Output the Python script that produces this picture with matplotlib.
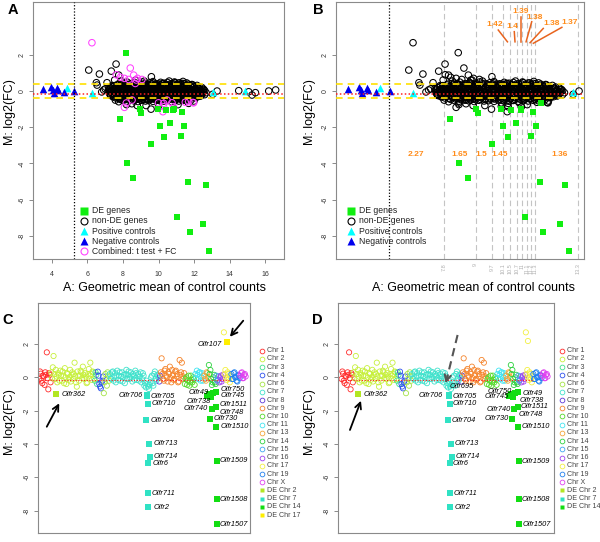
import matplotlib
matplotlib.use("Agg")
import matplotlib.pyplot as plt
from matplotlib.lines import Line2D
import numpy as np

plt.rcParams["font.family"] = ["Liberation Sans", "DejaVu Sans"]
plt.rcParams["axes.unicode_minus"] = False

# ======================= DATA : panels A and B =======================
de_x = [7.81, 8.94, 9.00, 9.97, 10.42, 10.84, 10.85, 11.34, 10.07, 10.63, 11.46,
        10.29, 11.25, 9.60, 8.21, 8.58, 11.64, 12.69, 11.02, 12.51, 11.76, 12.86]
de_y = [-1.57, -1.01, -1.23, -1.01, -1.05, -1.05, -0.98, -1.14, -1.93, -1.77, -1.92,
        -2.54, -2.49, -2.93, -4.00, -4.81, -5.05, -5.17, -6.98, -7.35, -7.81, -8.86]
de_onlyA_x = [8.17]
de_onlyA_y = [2.12]
de_onlyB_x = [11.70]
de_onlyB_y = [-0.68]

pos_x = [4.85, 6.25, 13.05, 14.89]
pos_y = [0.15, -0.10, -0.05, 0.02]
neg_x = [3.49, 3.94, 4.04, 4.09, 4.28, 4.34, 4.69, 5.26]
neg_y = [0.09, 0.20, 0.06, -0.13, 0.15, 0.06, -0.07, 0.02]

comb_x = [6.25, 8.41, 7.62, 7.85, 8.08, 8.60, 8.75, 9.07, 8.32, 8.08, 8.19, 10.29, 10.25,
          10.85, 10.29, 11.51, 11.70, 11.94, 8.69, 8.51, 10.48, 10.00, 10.76, 11.98, 8.82]
comb_y = [2.67, 1.27, 0.90, 0.76, 0.70, 0.88, 0.61, 0.64, 0.64, -0.90, -0.66, -0.87, -1.14,
          -0.87, -0.68, -0.62, -0.59, -0.63, 0.42, -0.50, -0.50, -0.65, -0.65, -0.65, 0.70]

scat_x = [6.07, 6.67, 7.34, 7.61, 6.50, 6.54, 6.91, 7.10, 7.19, 7.29, 7.53, 7.57, 7.76, 7.76,
          9.60, 9.69, 10.25, 11.38, 12.26, 12.68, 13.05, 13.30, 14.52, 15.08, 15.27, 15.46,
          16.21, 16.60, 9.58, 6.80, 7.00, 7.40, 7.45, 7.92, 8.20, 8.70, 9.20, 10.60, 10.90,
          11.20, 11.90, 12.10, 12.40, 12.00, 9.30, 8.80, 10.00, 11.10, 8.50, 12.50, 12.60]
scat_y = [1.16, 0.94, 1.10, 1.49, 0.46, 0.33, 0.06, 0.46, 0.15, -0.22, 0.61, -0.50, -0.59, 0.88,
          0.79, 0.52, 0.42, 0.53, 0.15, -0.09, -0.18, 0.00, 0.02, -0.04, -0.22, -0.09,
          0.00, 0.06, -1.00, -0.05, 0.12, 0.30, -0.30, 0.55, -0.75, 0.60, 0.55, 0.55, 0.50,
          0.45, 0.35, -0.35, -0.25, -0.55, -0.80, -0.80, -0.85, -0.75, -0.70, 0.10, -0.20]

core_x = [8.02, 8.24, 8.47, 8.66, 8.90, 9.08, 9.31, 9.52, 9.70, 9.93, 10.12, 10.33, 10.51, 10.74, 10.92, 11.13, 11.36, 11.58,
          7.52, 7.70, 7.86, 8.05, 8.20, 8.38, 8.56, 8.71, 8.90, 9.06, 9.24, 9.41, 9.57, 9.76, 9.92, 10.10, 10.26, 10.43, 10.61, 10.77, 10.95, 11.12, 11.28, 11.47, 11.63, 11.80, 11.98, 12.17,
          7.30, 7.47, 7.63, 7.80, 7.97, 8.15, 8.31, 8.48, 8.66, 8.82, 9.00, 9.16, 9.33, 9.50, 9.67, 9.85, 10.02, 10.18, 10.36, 10.52, 10.70, 10.87, 11.03, 11.20, 11.38, 11.55, 11.72, 11.90, 12.06, 12.24, 12.45,
          7.20, 7.37, 7.55, 7.71, 7.88, 8.06, 8.23, 8.40, 8.57, 8.75, 8.92, 9.09, 9.26, 9.44, 9.61, 9.78, 9.96, 10.13, 10.30, 10.47, 10.65, 10.82, 10.99, 11.16, 11.34, 11.51, 11.68, 11.86, 12.03, 12.20, 12.38, 12.60,
          7.24, 7.41, 7.58, 7.76, 7.93, 8.10, 8.27, 8.45, 8.62, 8.79, 8.97, 9.13, 9.31, 9.48, 9.65, 9.83, 10.00, 10.17, 10.35, 10.52, 10.69, 10.86, 11.04, 11.21, 11.39, 11.56, 11.73, 11.91, 12.08, 12.26, 12.48,
          7.32, 7.49, 7.67, 7.84, 8.01, 8.18, 8.36, 8.53, 8.70, 8.88, 9.05, 9.22, 9.40, 9.57, 9.74, 9.91, 10.09, 10.26, 10.43, 10.61, 10.78, 10.95, 11.12, 11.30, 11.47, 11.64, 11.82, 11.99, 12.17, 12.36,
          7.60, 7.78, 7.95, 8.12, 8.30, 8.47, 8.64, 8.82, 8.99, 9.16, 9.34, 9.51, 9.68, 9.86, 10.03, 10.20, 10.38, 10.55, 10.72, 10.90, 11.07, 11.24, 11.42, 11.59, 11.77, 11.96,
          8.00, 8.21, 8.43, 8.62, 8.85, 9.04, 9.27, 9.46, 9.69, 9.88, 10.09, 10.31, 10.50, 10.72, 10.93, 11.14, 11.35, 11.58]
core_y = [0.44, 0.49, 0.41, 0.47, 0.43, 0.50, 0.42, 0.46, 0.44, 0.40, 0.48, 0.43, 0.47, 0.41, 0.46, 0.44, 0.42, 0.45,
          0.30, 0.33, 0.28, 0.32, 0.35, 0.29, 0.31, 0.27, 0.34, 0.30, 0.32, 0.28, 0.33, 0.29, 0.31, 0.35, 0.28, 0.32, 0.30, 0.34, 0.27, 0.31, 0.33, 0.29, 0.32, 0.30, 0.28, 0.31,
          0.18, 0.14, 0.20, 0.16, 0.13, 0.19, 0.17, 0.21, 0.15, 0.18, 0.13, 0.20, 0.16, 0.19, 0.14, 0.17, 0.21, 0.15, 0.18, 0.13, 0.19, 0.16, 0.20, 0.14, 0.17, 0.19, 0.15, 0.18, 0.13, 0.16, 0.19,
          0.04, 0.01, 0.06, 0.02, 0.07, 0.03, 0.00, 0.05, 0.02, 0.06, 0.01, 0.04, 0.07, 0.02, 0.05, 0.00, 0.03, 0.06, 0.01, 0.04, 0.07, 0.02, 0.05, 0.00, 0.03, 0.06, 0.02, 0.04, 0.01, 0.05, 0.03, 0.02,
          -0.10, -0.13, -0.08, -0.12, -0.09, -0.14, -0.11, -0.07, -0.12, -0.10, -0.14, -0.08, -0.11, -0.13, -0.09, -0.12, -0.07, -0.11, -0.14, -0.10, -0.08, -0.13, -0.11, -0.09, -0.12, -0.14, -0.10, -0.08, -0.12, -0.11, -0.09,
          -0.25, -0.22, -0.27, -0.24, -0.28, -0.23, -0.26, -0.21, -0.25, -0.28, -0.22, -0.26, -0.24, -0.27, -0.23, -0.25, -0.28, -0.22, -0.26, -0.24, -0.21, -0.27, -0.25, -0.23, -0.28, -0.24, -0.26, -0.22, -0.25, -0.27,
          -0.38, -0.41, -0.36, -0.40, -0.43, -0.37, -0.39, -0.42, -0.38, -0.36, -0.41, -0.39, -0.43, -0.37, -0.40, -0.38, -0.42, -0.36, -0.39, -0.41, -0.37, -0.40, -0.43, -0.38, -0.41, -0.37,
          -0.52, -0.56, -0.50, -0.54, -0.58, -0.51, -0.55, -0.53, -0.57, -0.50, -0.54, -0.56, -0.52, -0.58, -0.53, -0.55, -0.51, -0.54]
core2_x = [7.72, 7.93, 8.14, 8.34, 8.57, 8.78, 8.99, 9.19, 9.41, 9.61, 9.82, 10.03, 10.22, 10.44, 10.64, 10.85, 11.05, 11.26, 11.46, 11.67, 11.88,
           7.40, 7.60, 7.79, 7.99, 8.19, 8.40, 8.59, 8.80, 8.99, 9.20, 9.39, 9.60, 9.80, 10.00, 10.20, 10.39, 10.60, 10.80, 10.99, 11.20, 11.40, 11.60, 11.80, 12.00, 12.30,
           7.25, 7.45, 7.66, 7.86, 8.06, 8.26, 8.46, 8.66, 8.86, 9.06, 9.26, 9.46, 9.66, 9.86, 10.06, 10.26, 10.46, 10.66, 10.86, 11.06, 11.26, 11.46, 11.66, 11.86, 12.06, 12.28, 12.55,
           7.28, 7.48, 7.69, 7.89, 8.09, 8.29, 8.49, 8.69, 8.89, 9.09, 9.29, 9.49, 9.69, 9.89, 10.09, 10.29, 10.49, 10.69, 10.89, 11.09, 11.29, 11.49, 11.69, 11.89, 12.09, 12.31, 12.52,
           7.27, 7.50, 7.70, 7.90, 8.11, 8.31, 8.51, 8.71, 8.91, 9.11, 9.31, 9.51, 9.71, 9.91, 10.11, 10.31, 10.51, 10.71, 10.91, 11.11, 11.31, 11.51, 11.71, 11.91, 12.11, 12.30, 12.46,
           7.45, 7.66, 7.87, 8.07, 8.28, 8.49, 8.70, 8.90, 9.11, 9.32, 9.53, 9.73, 9.94, 10.15, 10.36, 10.56, 10.77, 10.98, 11.19, 11.39, 11.60, 11.81, 12.02, 12.22,
           7.85, 8.06, 8.27, 8.48, 8.69, 8.90, 9.11, 9.32, 9.53, 9.74, 9.95, 10.16, 10.37, 10.58, 10.79, 11.00, 11.21, 11.42, 11.63, 11.85]
core2_y = [0.38, 0.36, 0.40, 0.37, 0.39, 0.35, 0.38, 0.40, 0.36, 0.39, 0.37, 0.38, 0.40, 0.36, 0.38, 0.39, 0.35, 0.37, 0.40, 0.38, 0.36,
           0.24, 0.22, 0.25, 0.23, 0.26, 0.22, 0.24, 0.25, 0.23, 0.21, 0.24, 0.26, 0.22, 0.25, 0.23, 0.24, 0.21, 0.25, 0.23, 0.26, 0.22, 0.24, 0.25, 0.23, 0.22,
           0.10, 0.08, 0.11, 0.09, 0.12, 0.08, 0.10, 0.11, 0.09, 0.07, 0.10, 0.12, 0.08, 0.11, 0.09, 0.10, 0.07, 0.11, 0.09, 0.12, 0.08, 0.10, 0.11, 0.09, 0.08, 0.10, 0.09,
           -0.04, -0.02, -0.05, -0.03, -0.06, -0.02, -0.04, -0.05, -0.03, -0.01, -0.04, -0.06, -0.02, -0.05, -0.03, -0.04, -0.01, -0.05, -0.03, -0.06, -0.02, -0.04, -0.05, -0.03, -0.02, -0.04, -0.03,
           -0.18, -0.16, -0.19, -0.17, -0.20, -0.16, -0.18, -0.19, -0.17, -0.15, -0.18, -0.20, -0.16, -0.19, -0.17, -0.18, -0.15, -0.19, -0.17, -0.20, -0.16, -0.18, -0.19, -0.17, -0.16, -0.18, -0.17,
           -0.32, -0.30, -0.33, -0.31, -0.34, -0.30, -0.32, -0.33, -0.31, -0.29, -0.32, -0.34, -0.30, -0.33, -0.31, -0.32, -0.29, -0.33, -0.31, -0.34, -0.30, -0.32, -0.33, -0.31,
           -0.46, -0.44, -0.47, -0.45, -0.48, -0.44, -0.46, -0.47, -0.45, -0.43, -0.46, -0.48, -0.44, -0.47, -0.45, -0.46, -0.43, -0.47, -0.45, -0.48]

fc_upper, fc_lower, m_median, count_cut = 0.37, -0.40, -0.18, 5.25

bin_edges = [7.57, 8.91, 9.62, 10.06, 10.37, 10.68, 10.87, 11.08, 11.25, 11.43, 13.27]
bin_labels = ["7.8", "9", "9.7", "10.1", "10.5", "10.7", "11", "11.1", "11.2", "11.3", "13.3"]
thr_low_text = ["2.27", "1.65", "1.5", "1.45", "1.36"]
thr_low_x = [6.38, 8.22, 9.17, 9.95, 12.49]
thr_top_text = ["1.42", "1.4", "1.39", "1.38", "1.38", "1.37"]
thr_top_x = [9.73, 10.47, 10.82, 11.43, 12.14, 12.89]
thr_top_y = [3.65, 3.59, 4.38, 4.07, 3.74, 3.77]
thr_seg_x0 = [9.87, 10.55, 10.82, 11.29, 11.78, 12.57]
thr_seg_y0 = [3.37, 3.28, 4.10, 3.83, 3.46, 3.52]
thr_seg_x1 = [10.26, 10.58, 10.82, 11.05, 11.22, 11.36]
thr_seg_y1 = [2.72, 2.72, 2.72, 2.72, 2.67, 2.64]

# ======================= DATA : panels C and D =======================
chr_names = ["Chr 1", "Chr 2", "Chr 3", "Chr 4", "Chr 6", "Chr 7", "Chr 8", "Chr 9", "Chr 10",
             "Chr 11", "Chr 13", "Chr 14", "Chr 15", "Chr 16", "Chr 17", "Chr 19", "Chr X"]
chr_colors = ["#FF2A2A", "#C6F03A", "#3EE08E", "#2C50EE", "#A4E446", "#40E2CC", "#5B35D6",
              "#F5842C", "#55DA2A", "#42E4F2", "#F5A438", "#2CD23E", "#40A4F2", "#A040F0",
              "#F2F040", "#2080F0", "#E040F0"]
chr1_y = [-0.10, 0.35, 0.22, -0.20, -0.35, 0.10, 0.05, -0.45, 0.30, 0.15, 1.50, -0.05, -0.72, 0.25, 0.15, -0.30]
chr2_y = [0.30, -0.05, 0.60, 1.28, 0.20, -0.10, 0.45, 0.05, -0.30, 0.25, 0.15, -0.20, 0.40, 0.10, -0.20,
          0.35, 0.10, -0.35, 0.55, 0.00, -0.40, 0.25, 0.20, -0.15, 0.00, 0.45, -0.25, 0.15, 0.30, -0.10,
          0.20, 0.88, 0.05, -0.30, -0.56, 0.35, 0.10, -0.20, 0.10, 0.40, 0.30, -0.05, 0.64, 0.15, -0.10,
          0.25, 0.05, -0.35, -0.30, 0.20, 0.50, 0.10, 0.88, 0.20, -0.15, 0.35, 0.30, -0.10]
chr3_y = [-0.20, 0.30, 0.15, -0.40]
chr4_y = [0.34, 0.10, -0.40, -0.55, -0.66, -0.30, -0.20, 0.05]
chr6_y = [-0.95, -0.30, 0.20, -0.10, -0.50, 0.30, 0.10, -0.20]
chr7_y = [0.20, -0.05, -0.10, 0.30, 0.35, -0.20, 0.05, 0.25, -0.30, 0.10, 0.40, -0.15, 0.10, 0.30,
          -0.20, 0.05, 0.30, -0.25, 0.00, 0.15, -0.35, 0.20, 0.45, -0.10, 0.15, 0.35, -0.10, 0.00,
          0.30, 0.10, -0.25, 0.20, 0.10, -0.15, 0.40, 0.25, -0.15, 0.05, 0.20, -0.20, 0.05, 0.30,
          -0.30, -0.10, 0.25, 0.10, -0.50, -0.35, -0.60, -0.20, -0.40, -0.55, -0.70, -0.45, -0.30,
          0.00, 0.10, -0.35, -0.50, 0.20, 0.35, -0.10, -0.20, 0.15, 0.10, -0.05]
chr8_y = [-0.25, 0.10]
chr9_y = [0.30, 1.14, 0.20, -0.10, -0.20, 0.40, 0.50, 0.10, 0.00, -0.25, 0.30, 0.20, 0.64, -0.05,
          -0.30, 0.45, 0.10, -0.15, -0.10, 0.35, 0.40, 0.05, 0.20, -0.30, -0.25, 1.04, 0.15, 0.30,
          0.88, -0.10, 0.05, 0.25]
chr10_y = [-0.40, -0.10, 0.00, -0.45, -0.20, 0.10, -0.50, -0.30, 0.10, -0.15, -0.30, 0.00, -0.10, -0.45]
chr11_y = [0.20, -0.05, 0.40, 0.15, -0.10, 0.30, 0.30, -0.20, 0.00, 0.25, -0.20, 0.10]
chr13_y = [0.10, -0.10, -0.20, 0.30, 0.25, 0.00]
chr14_y = [0.74, 0.20, 0.44, -0.10, -0.46, -0.30, 0.00, 0.15, -0.30, -0.40]
chr15_y = [0.10, -0.20, -0.15, 0.05]
chr16_y = [-0.30, 0.00, 0.10, -0.25, -0.10, 0.15]
chr17_y = [2.70, 0.20, 0.44, 0.00, -0.16, 0.30, 0.20, -0.10, -0.30, 0.10]
chr19_y = [0.20, -0.10, -0.10, 0.25, 0.30, 0.00, 0.00, -0.20, -0.25, 0.15, 0.10, -0.05]
chrX_y = [0.10, 0.25, 0.30, -0.05, -0.05, 0.15, 0.20, 0.05]
chr_values = [chr1_y, chr2_y, chr3_y, chr4_y, chr6_y, chr7_y, chr8_y, chr9_y, chr10_y, chr11_y,
              chr13_y, chr14_y, chr15_y, chr16_y, chr17_y, chr19_y, chrX_y]

de_c2_x, de_c2_y = [22.2], [-1.02]
de_c7_x = [143.6, 144.0, 144.4, 142.2, 146.2, 147.2, 145.4, 145.4, 145.4]
de_c7_y = [-1.08, -1.14, -1.58, -2.54, -3.98, -4.78, -5.16, -6.96, -7.80]
de_c14_x = [223.2, 226.6, 228.8, 231.2, 235.6, 230.6, 235.6, 227.6, 235.6, 236.4, 236.4, 236.4]
de_c14_y = [-1.12, -1.00, -1.20, -0.92, -0.88, -1.92, -1.80, -2.48, -2.96, -5.02, -7.32, -8.82]
de_c17_x, de_c17_y = [249.8], [2.10]
olfr107_D_x, olfr107_D_y = [248.8], [2.18]
de_names = ["DE Chr 2", "DE Chr 7", "DE Chr 14", "DE Chr 17"]
de_colors = ["#B2E622", "#30E2C4", "#12DD12", "#FFEE00"]

c_lab = ["Olfr362", "Olfr107", "Olfr706", "Olfr705", "Olfr710", "Olfr704", "Olfr713", "Olfr714",
         "Olfr6", "Olfr711", "Olfr2", "Olfr49", "Olfr750", "Olfr745", "Olfr738", "Olfr1511",
         "Olfr740", "Olfr748", "Olfr730", "Olfr1510", "Olfr1509", "Olfr1508", "Olfr1507"]
c_lab_x = [29.8, 243.6, 137.4, 148.4, 149.8, 148.4, 152.0, 152.8, 151.2, 149.8, 152.0, 225.8, 242.2,
           242.2, 228.0, 240.0, 224.8, 240.0, 232.0, 242.0, 240.8, 240.8, 240.8]
c_lab_y = [-1.02, 2.00, -1.10, -1.16, -1.58, -2.58, -3.98, -4.78, -5.18, -6.96, -7.80, -0.92, -0.74,
           -1.10, -1.44, -1.64, -1.90, -2.10, -2.48, -2.94, -5.02, -7.32, -8.82]
c_lab_ha = ["left", "right", "right", "left", "left", "left", "left", "left", "left", "left", "left",
            "right", "left", "left", "right", "left", "right", "left", "left", "left", "left", "left", "left"]

d_lab = ["Olfr362", "Olfr706", "Olfr705", "Olfr710", "Olfr704", "Olfr713", "Olfr714", "Olfr6",
         "Olfr711", "Olfr2", "Olfr695", "Olfr750", "Olfr745", "Olfr49", "Olfr738", "Olfr740",
         "Olfr1511", "Olfr748", "Olfr730", "Olfr1510", "Olfr1509", "Olfr1508", "Olfr1507"]
d_lab_x = [28.8, 135.6, 148.0, 148.0, 146.6, 151.2, 152.0, 148.8, 149.8, 150.6, 143.6, 227.6, 223.2,
           242.2, 237.8, 226.6, 239.2, 236.8, 223.6, 240.8, 240.8, 240.8, 241.4]
d_lab_y = [-1.02, -1.10, -1.16, -1.58, -2.56, -3.98, -4.78, -5.18, -6.96, -7.80, -0.58, -0.86, -1.16,
           -0.96, -1.36, -1.92, -1.72, -2.20, -2.48, -2.96, -5.04, -7.32, -8.86]
d_lab_ha = ["left", "right", "left", "left", "left", "left", "left", "left", "left", "left", "left",
            "right", "right", "left", "left", "right", "left", "left", "right", "left", "left", "left", "left"]

# ======================= FIGURE =======================
W, H = 600.0, 542.0
fig = plt.figure(figsize=(6.0, 5.42), dpi=100)


def rect(l, t, r, b):
    return [l / W, 1 - b / H, (r - l) / W, (b - t) / H]


def fp(px, py):
    return px / W, 1 - py / H


def style(ax):
    for s in ax.spines.values():
        s.set_color("#8a8a8a")
        s.set_linewidth(0.8)
    ax.tick_params(direction="out", length=3, width=0.6, color="#777777",
                   labelsize=5, labelcolor="#333333")
    ax.tick_params(axis="y", labelrotation=90, pad=2.5)
    ax.set_yticks([-8, -6, -4, -2, 0, 2])
    for t in ax.get_yticklabels():
        t.set_verticalalignment("center")


axA = fig.add_axes(rect(33, 2, 284, 259))
axB = fig.add_axes(rect(336, 2, 584, 259))
axC = fig.add_axes(rect(38.3, 303, 250, 533))
axD = fig.add_axes(rect(338.3, 303, 554, 533))

circ = dict(s=22, facecolors="none", linewidths=0.75)

# ---- panel A
ax = axA
ax.scatter(core_x + core2_x + scat_x + de_onlyB_x, core_y + core2_y + scat_y + de_onlyB_y,
           edgecolors="black", zorder=2, **circ)
ax.scatter(comb_x, comb_y, edgecolors="#FF44FF", zorder=3, **circ)
ax.scatter(de_x + de_onlyA_x, de_y + de_onlyA_y, marker="s", s=24, c="#11EE11", linewidths=0, zorder=4)
ax.scatter(pos_x, pos_y, marker="^", s=30, c="#00FFFF", linewidths=0, zorder=4)
ax.scatter(neg_x, neg_y, marker="^", s=30, c="#0000EE", linewidths=0, zorder=4)
# ---- panel B
ax = axB
for e in bin_edges:
    ax.axvline(e, color="#c4c4c4", lw=0.8, ls=(0, (5, 3)), zorder=1)
ax.scatter(core_x + core2_x + scat_x + comb_x + de_onlyA_x,
           core_y + core2_y + scat_y + comb_y + de_onlyA_y,
           edgecolors="black", zorder=2, **circ)
ax.scatter(de_x + de_onlyB_x, de_y + de_onlyB_y, marker="s", s=24, c="#11EE11", linewidths=0, zorder=4)
ax.scatter(pos_x, pos_y, marker="^", s=30, c="#00FFFF", linewidths=0, zorder=4)
ax.scatter(neg_x, neg_y, marker="^", s=30, c="#0000EE", linewidths=0, zorder=4)
for t, x in zip(thr_low_text, thr_low_x):
    ax.text(x, -3.48, t, color="#FF8C1A", fontsize=6, fontweight="bold", ha="center", va="center")
for t, x, y in zip(thr_top_text, thr_top_x, thr_top_y):
    ax.text(x, y, t, color="#FF8C1A", fontsize=6, fontweight="bold", ha="center", va="center")
for x0, y0, x1, y1 in zip(thr_seg_x0, thr_seg_y0, thr_seg_x1, thr_seg_y1):
    ax.plot([x0, x1], [y0, y1], color="#E8641E", lw=1.1, zorder=5)

for ax in (axA, axB):
    ax.axhline(fc_upper, color="#FFE000", lw=1.2, ls=(0, (4, 3)), zorder=6)
    ax.axhline(fc_lower, color="#FFE000", lw=1.2, ls=(0, (4, 3)), zorder=6)
    ax.axhline(m_median, color="#FF2020", lw=1.1, ls=(0, (1, 1.5)), zorder=6)
    ax.axvline(count_cut, color="black", lw=0.9, ls=(0, (1, 1.5)), zorder=6)
    ax.set_ylim(-9.28, 4.92)
    style(ax)

axA.set_xlim(2.93, 17.07)
axA.set_xticks([4, 6, 8, 10, 12, 14, 16])
axA.tick_params(axis="x", pad=5.5)
axB.set_xlim(2.98, 13.51)
axB.set_xticks(bin_edges, bin_labels)
axB.tick_params(axis="x", length=0, labelsize=4, labelcolor="#b0b0b0", labelrotation=90, pad=3)

legA = [("DE genes", "s", "#11EE11", True), ("non-DE genes", "o", "black", False),
        ("Positive controls", "^", "#00FFFF", True), ("Negative controls", "^", "#0000EE", True),
        ("Combined: t test + FC", "o", "#FF44FF", False)]
for mx, tx0, entries in ((84.3, 91.7, legA), (351.0, 359.3, legA[:4])):
    for i, (lab, mk, col, filled) in enumerate(entries):
        py = 210.7 + i * 10.15
        x, y = fp(mx, py)
        fig.add_artist(Line2D([x], [y], marker=mk, ms=5.2 if mk != "o" else 5.0,
                              mfc=col if filled else "none", mec="none" if filled else col,
                              mew=0.8, ls="none", transform=fig.transFigure, zorder=10))
        tx, ty = fp(tx0, py)
        fig.text(tx, ty, lab, fontsize=6.2, va="center", ha="left", color="#222222")

# ---- panels C and D
for ax, is_d in ((axC, False), (axD, True)):
    start = 0
    for ys, col in zip(chr_values, chr_colors):
        xs = np.arange(start, start + len(ys))
        ax.scatter(xs, ys, s=14, facecolors="none", edgecolors=col, linewidths=0.6, zorder=2)
        start += len(ys)
    if is_d:
        ax.scatter(olfr107_D_x, olfr107_D_y, s=14, facecolors="none", edgecolors=chr_colors[14],
                   linewidths=0.6, zorder=2)
    ax.hlines(-0.16, 0, 254, color="#FF2020", lw=0.8, ls=(0, (1, 1.5)), zorder=3)
    ax.scatter(de_c2_x, de_c2_y, marker="s", s=13, c=de_colors[0], linewidths=0, zorder=4)
    ax.scatter(de_c7_x, de_c7_y, marker="s", s=13, c=de_colors[1], linewidths=0, zorder=4)
    ax.scatter(de_c14_x, de_c14_y, marker="s", s=13, c=de_colors[2], linewidths=0, zorder=4)
    if not is_d:
        ax.scatter(de_c17_x, de_c17_y, marker="s", s=13, c=de_colors[3], linewidths=0, zorder=4)
    ax.set_ylim(-9.34, 4.46)
    ax.set_xticks([])
    style(ax)

axC.set_xlim(-1.33, 280.8)
axD.set_xlim(-4.4, 283.6)

for t, x, y, ha in zip(c_lab, c_lab_x, c_lab_y, c_lab_ha):
    axC.text(x, y, t, fontsize=5.3, style="italic", ha=ha, va="center", zorder=6)
for t, x, y, ha in zip(d_lab, d_lab_x, d_lab_y, d_lab_ha):
    axD.text(x, y, t, fontsize=5.3, style="italic", ha=ha, va="center", zorder=6)

arrow = dict(arrowstyle="->", color="black", lw=1.3, mutation_scale=11, shrinkA=0, shrinkB=0)
axC.annotate("", xy=(0.099, 0.564), xytext=(0.040, 0.462), xycoords="axes fraction", arrowprops=arrow)
axC.annotate("", xy=(0.905, 0.853), xytext=(0.968, 0.923), xycoords="axes fraction", arrowprops=arrow)
axD.annotate("", xy=(0.105, 0.575), xytext=(0.054, 0.448), xycoords="axes fraction", arrowprops=arrow)
axD.plot([0.553, 0.503], [0.861, 0.670], transform=axD.transAxes, color="#555555", lw=1.5,
         ls=(0, (4, 2.5)), zorder=6)
axD.annotate("", xy=(0.498, 0.651), xytext=(0.506, 0.681), xycoords="axes fraction",
             arrowprops=dict(arrowstyle="->", color="#555555", lw=1.5, mutation_scale=11,
                             shrinkA=0, shrinkB=0))

for base, nde in ((0, 4), (300, 3)):
    names = chr_names + de_names[:nde]
    for i, lab in enumerate(names):
        py = 350.7 + i * 8.22
        x, y = fp(261.7 + base, py)
        if i < len(chr_names):
            fig.add_artist(Line2D([x], [y], marker="o", ms=3.4, mfc="none", mec=chr_colors[i],
                                  mew=0.6, ls="none", transform=fig.transFigure))
        else:
            fig.add_artist(Line2D([x], [y], marker="s", ms=3.2, mfc=de_colors[i - len(chr_names)],
                                  mec="none", ls="none", transform=fig.transFigure))
        tx, ty = fp(266.7 + base, py)
        fig.text(tx, ty, lab, fontsize=5.1, va="center", ha="left", color="#444444")

for cx in (164.5, 473):
    fig.text(cx / W, 1 - 288 / H, "A: Geometric mean of control counts", fontsize=9,
             ha="center", va="center")
for cx, cy in ((10, 112), (310, 112), (10, 422), (310, 422)):
    fig.text(cx / W, 1 - cy / H, "M: log2(FC)", fontsize=9, rotation=90, ha="center", va="center")
for lab, px, py in (("A", 13, 10), ("B", 318, 10), ("C", 8, 320), ("D", 317, 320)):
    fig.text(px / W, 1 - py / H, lab, fontsize=10.5, fontweight="bold", ha="center", va="center")

fig.savefig("out.png", dpi=100)
